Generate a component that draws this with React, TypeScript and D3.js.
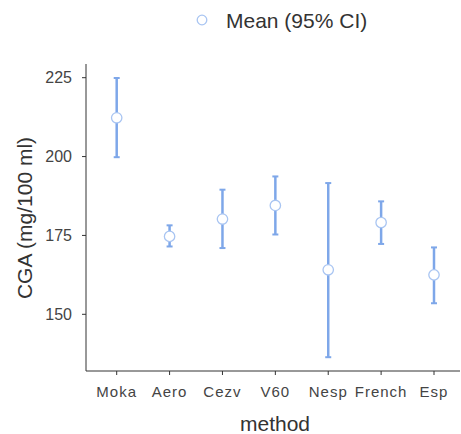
import React from 'react';
import * as d3 from 'd3';

const methods = ['Moka', 'Aero', 'Cezv', 'V60', 'Nesp', 'French', 'Esp'];
const means = [212.3, 174.7, 180.2, 184.5, 164.1, 179.1, 162.5];
const lower = [199.8, 171.5, 171.0, 175.3, 136.4, 172.3, 153.5];
const upper = [224.9, 178.2, 189.5, 193.7, 191.6, 185.8, 171.2];
const yTicks = [150, 175, 200, 225];

const barColor = '#7ea7e9';
const dotColor = '#a9c5f2';
const font = '"Liberation Sans", Arial, sans-serif';

export default function App() {
  const width = 461;
  const height = 434;
  const axisX = 86;
  const axisBottom = 371;
  const axisTop = 64;

  const x = d3.scalePoint<string>().domain(methods).range([116.7, 434]);
  const y = d3.scaleLinear().domain([150, 225]).range([314.3, 77.7]);

  const data = methods.map((m, i) => ({ m, mean: means[i], lo: lower[i], hi: upper[i] }));

  return (
    <svg width={width} height={height} style={{ position: 'absolute', left: 0, top: 0 }}>
      <rect width={width} height={height} fill="#fff" />

      {/* legend */}
      <circle cx={202} cy={20} r={4.8} fill="#fff" stroke={dotColor} strokeWidth={1.3} />
      <text x={226} y={28} fontFamily={font} fontSize={21} fill="#333">Mean (95% CI)</text>

      {/* axes */}
      <line x1={axisX} x2={axisX} y1={axisTop} y2={axisBottom} stroke="#333" strokeWidth={1} />
      <line x1={axisX} x2={460} y1={axisBottom} y2={axisBottom} stroke="#333" strokeWidth={1} />
      {yTicks.map((t) => (
        <g key={t}>
          <line x1={axisX - 4} x2={axisX} y1={y(t)} y2={y(t)} stroke="#333" />
          <text x={axisX - 14} y={y(t) + 5.7} textAnchor="end" fontFamily={font} fontSize={16} fill="#444">
            {t}
          </text>
        </g>
      ))}
      {methods.map((m) => (
        <g key={m}>
          <line x1={x(m)!} x2={x(m)!} y1={axisBottom} y2={axisBottom + 4} stroke="#333" />
          <text x={x(m)!} y={396.5} textAnchor="middle" fontFamily={font} fontSize={15} fill="#444" letterSpacing={1}>
            {m}
          </text>
        </g>
      ))}
      <text
        transform={`translate(32, 218) rotate(-90)`}
        textAnchor="middle"
        fontFamily={font}
        fontSize={21}
        fill="#333"
      >
        CGA (mg/100 ml)
      </text>
      <text x={275} y={431} textAnchor="middle" fontFamily={font} fontSize={21} fill="#333">
        method
      </text>

      {/* error bars */}
      {data.map((d) => {
        const cx = x(d.m)!;
        return (
          <g key={d.m}>
            <line x1={cx} x2={cx} y1={y(d.hi)} y2={y(d.lo)} stroke={barColor} strokeWidth={2.5} />
            <line x1={cx - 3} x2={cx + 3} y1={y(d.hi)} y2={y(d.hi)} stroke={barColor} strokeWidth={2} />
            <line x1={cx - 3} x2={cx + 3} y1={y(d.lo)} y2={y(d.lo)} stroke={barColor} strokeWidth={2} />
            <circle cx={cx} cy={y(d.mean)} r={5.2} fill="#fff" stroke={dotColor} strokeWidth={1.3} />
          </g>
        );
      })}
    </svg>
  );
}
